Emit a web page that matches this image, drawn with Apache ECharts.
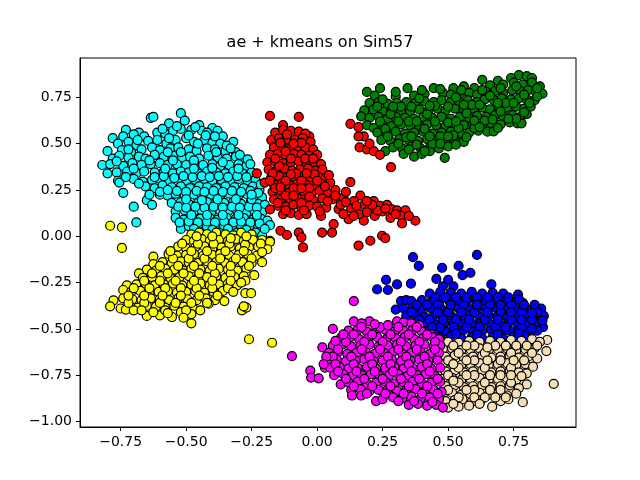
<!DOCTYPE html>
<html>
<head>
<meta charset="utf-8">
<script src="https://cdn.jsdelivr.net/npm/echarts@6/dist/echarts.min.js"></script>
<style>
  html, body { margin: 0; padding: 0; background: #fff; }
  #chart { width: 640px; height: 480px; }
</style>
</head>
<body>
<div id="chart"></div>
<script>
"use strict";

var titleText = "ae + kmeans on Sim57";
var xTicks = [-0.75, -0.5, -0.25, 0, 0.25, 0.5, 0.75];
var yTicks = [-1, -0.75, -0.5, -0.25, 0, 0.25, 0.5, 0.75];

var cyanPts = [
    [-0.635,0.64],[-0.625,0.645],[-0.52,0.665],[-0.505,0.625],[-0.565,0.61],[-0.45,0.60],[-0.40,0.585],[-0.38,0.57],[-0.73,0.575],[-0.78,0.53],[-0.68,0.56],
    [-0.74,0.54],[-0.70,0.55],[-0.66,0.54],[-0.61,0.56],[-0.58,0.555],[-0.55,0.57],[-0.52,0.58],[-0.48,0.575],[-0.44,0.57],[-0.42,0.56],[-0.36,0.54],
    [-0.76,0.50],[-0.72,0.51],[-0.69,0.49],[-0.645,0.515],[-0.61,0.52],[-0.575,0.50],[-0.54,0.52],[-0.50,0.53],[-0.47,0.51],[-0.43,0.52],[-0.40,0.505],[-0.37,0.50],[-0.32,0.51],
    [-0.80,0.46],[-0.745,0.465],[-0.71,0.455],[-0.67,0.47],[-0.63,0.48],[-0.60,0.465],[-0.56,0.475],[-0.53,0.48],[-0.49,0.47],[-0.46,0.46],[-0.42,0.475],[-0.39,0.47],[-0.35,0.46],[-0.31,0.455],
    [-0.78,0.42],[-0.755,0.435],[-0.72,0.425],[-0.68,0.43],[-0.655,0.42],[-0.62,0.44],[-0.585,0.43],[-0.55,0.435],[-0.515,0.425],[-0.485,0.43],[-0.45,0.42],[-0.415,0.435],[-0.38,0.425],[-0.345,0.42],[-0.31,0.43],[-0.28,0.41],
    [-0.82,0.385],[-0.79,0.39],[-0.74,0.38],[-0.705,0.395],[-0.67,0.385],[-0.635,0.39],[-0.60,0.395],[-0.57,0.385],[-0.535,0.39],[-0.50,0.385],[-0.47,0.395],[-0.435,0.385],[-0.40,0.39],[-0.37,0.38],[-0.335,0.385],[-0.30,0.39],[-0.27,0.38],
    [-0.80,0.34],[-0.765,0.345],[-0.725,0.35],[-0.69,0.34],[-0.66,0.35],[-0.62,0.345],[-0.585,0.35],[-0.55,0.34],[-0.52,0.35],[-0.49,0.345],[-0.455,0.34],[-0.42,0.35],[-0.385,0.345],[-0.35,0.34],[-0.32,0.35],[-0.285,0.34],[-0.25,0.345],
    [-0.76,0.30],[-0.70,0.31],[-0.665,0.295],[-0.63,0.305],[-0.60,0.31],[-0.565,0.30],[-0.53,0.31],[-0.50,0.30],[-0.465,0.305],[-0.43,0.31],[-0.40,0.30],[-0.365,0.305],[-0.33,0.30],[-0.30,0.31],[-0.265,0.30],[-0.235,0.305],
    [-0.74,0.235],[-0.755,0.29],[-0.655,0.27],[-0.62,0.26],[-0.59,0.275],[-0.555,0.265],[-0.52,0.27],[-0.485,0.26],[-0.45,0.27],[-0.42,0.265],[-0.385,0.26],[-0.35,0.27],[-0.315,0.265],[-0.28,0.26],[-0.245,0.27],[-0.22,0.25],
    [-0.65,0.195],[-0.63,0.17],[-0.60,0.225],[-0.57,0.22],[-0.54,0.23],[-0.505,0.22],[-0.47,0.225],[-0.44,0.215],[-0.405,0.225],[-0.37,0.22],[-0.335,0.23],[-0.30,0.22],[-0.265,0.225],[-0.235,0.215],[-0.21,0.21],
    [-0.70,0.16],[-0.555,0.18],[-0.52,0.185],[-0.49,0.175],[-0.455,0.18],[-0.42,0.185],[-0.39,0.175],[-0.355,0.18],[-0.32,0.185],[-0.29,0.175],[-0.255,0.18],[-0.225,0.175],[-0.20,0.17],
    [-0.54,0.135],[-0.505,0.14],[-0.47,0.135],[-0.44,0.14],[-0.405,0.13],[-0.37,0.14],[-0.34,0.135],[-0.305,0.14],[-0.27,0.13],[-0.24,0.14],[-0.21,0.13],
    [-0.69,0.075],[-0.54,0.10],[-0.51,0.09],[-0.475,0.10],[-0.445,0.095],[-0.41,0.10],[-0.38,0.09],[-0.345,0.10],[-0.31,0.095],[-0.28,0.10],[-0.245,0.09],[-0.215,0.095],[-0.19,0.085],
    [-0.52,0.04],[-0.49,0.055],[-0.455,0.06],[-0.42,0.05],[-0.39,0.06],[-0.355,0.055],[-0.32,0.06],[-0.29,0.05],[-0.255,0.055],[-0.225,0.05],[-0.18,0.06],
    [-0.45,0.02],[-0.41,0.015],[-0.375,0.02],[-0.34,0.015],[-0.305,0.02],[-0.27,0.01],[-0.235,0.02],[-0.21,0.005],
    [-0.59,0.58],[-0.535,0.595],[-0.465,0.59],[-0.425,0.545],[-0.39,0.54],[-0.345,0.49],[-0.33,0.475],[-0.295,0.44],[-0.265,0.415],[-0.62,0.32],[-0.585,0.325],[-0.545,0.315],[-0.51,0.325],[-0.475,0.32],[-0.44,0.325],[-0.41,0.32],[-0.375,0.325],[-0.34,0.32],[-0.305,0.325],[-0.27,0.32],
    [-0.60,0.24],[-0.57,0.25],[-0.535,0.245],[-0.50,0.24],[-0.46,0.245],[-0.43,0.24],[-0.395,0.245],[-0.36,0.24],[-0.325,0.245],[-0.29,0.24],[-0.255,0.245],[-0.225,0.235],
    [-0.53,0.16],[-0.50,0.155],[-0.465,0.16],[-0.43,0.155],[-0.395,0.16],[-0.36,0.155],[-0.325,0.16],[-0.295,0.155],[-0.26,0.16],[-0.23,0.155],
    [-0.525,0.075],[-0.49,0.08],[-0.455,0.075],[-0.42,0.08],[-0.39,0.075],[-0.355,0.08],[-0.32,0.075],[-0.29,0.08],[-0.255,0.075],[-0.22,0.07],
    [-0.565,0.53],[-0.49,0.545],[-0.455,0.50],[-0.385,0.455],[-0.255,0.39],[-0.215,0.28],[-0.57,0.455],[-0.52,0.455],[-0.64,0.41],[-0.55,0.41],[-0.47,0.41],[-0.36,0.40],
    [-0.58,0.365],[-0.47,0.365],[-0.40,0.37],[-0.30,0.365],[-0.50,0.20],[-0.44,0.195],[-0.38,0.20],[-0.31,0.20],[-0.25,0.20],[-0.48,0.115],[-0.42,0.115],[-0.36,0.115],[-0.30,0.115],[-0.23,0.115],
    [-0.47,0.04],[-0.40,0.035],[-0.34,0.04],[-0.27,0.035],[-0.20,0.04],[-0.685,0.52],[-0.72,0.47],[-0.765,0.405],[-0.70,0.365],[-0.73,0.32],[-0.68,0.285],[-0.64,0.225],[-0.25,0.225]
];

var yellowPts = [
    [-0.79,0.057],[-0.745,0.048],[-0.745,-0.063],[-0.26,-0.556],[-0.172,-0.575],
    [-0.48,0.01],[-0.45,0.02],[-0.42,0.012],[-0.385,0.02],[-0.35,0.01],[-0.32,0.005],[-0.29,0.02],[-0.25,0.01],[-0.18,-0.024],
    [-0.50,-0.02],[-0.47,-0.025],[-0.44,-0.015],[-0.41,-0.025],[-0.375,-0.02],[-0.34,-0.025],[-0.31,-0.015],[-0.28,-0.025],[-0.245,-0.02],[-0.21,-0.02],[-0.18,-0.03],
    [-0.53,-0.055],[-0.50,-0.065],[-0.465,-0.06],[-0.43,-0.055],[-0.40,-0.065],[-0.365,-0.06],[-0.33,-0.055],[-0.295,-0.065],[-0.26,-0.06],[-0.225,-0.055],[-0.19,-0.07],
    [-0.567,-0.095],[-0.535,-0.105],[-0.50,-0.10],[-0.47,-0.095],[-0.435,-0.105],[-0.40,-0.10],[-0.37,-0.095],[-0.335,-0.105],[-0.30,-0.10],[-0.265,-0.095],[-0.23,-0.105],[-0.21,-0.14],
    [-0.625,-0.11],[-0.625,-0.15],[-0.59,-0.14],[-0.555,-0.145],[-0.52,-0.135],[-0.49,-0.14],[-0.455,-0.145],[-0.42,-0.135],[-0.385,-0.14],[-0.35,-0.145],[-0.32,-0.135],[-0.285,-0.14],[-0.25,-0.145],
    [-0.65,-0.18],[-0.615,-0.185],[-0.58,-0.175],[-0.545,-0.18],[-0.51,-0.185],[-0.48,-0.175],[-0.445,-0.18],[-0.41,-0.185],[-0.375,-0.175],[-0.34,-0.18],[-0.305,-0.185],[-0.27,-0.175],[-0.24,-0.21],
    [-0.68,-0.20],[-0.665,-0.225],[-0.63,-0.22],[-0.595,-0.215],[-0.56,-0.225],[-0.525,-0.22],[-0.49,-0.215],[-0.455,-0.225],[-0.42,-0.22],[-0.385,-0.215],[-0.35,-0.225],[-0.315,-0.22],[-0.28,-0.215],[-0.274,-0.24],
    [-0.726,-0.265],[-0.69,-0.26],[-0.655,-0.255],[-0.62,-0.265],[-0.585,-0.26],[-0.55,-0.255],[-0.515,-0.265],[-0.48,-0.26],[-0.445,-0.255],[-0.41,-0.265],[-0.375,-0.26],[-0.34,-0.255],[-0.305,-0.265],
    [-0.74,-0.29],[-0.71,-0.30],[-0.675,-0.295],[-0.64,-0.305],[-0.605,-0.30],[-0.57,-0.295],[-0.535,-0.305],[-0.50,-0.30],[-0.465,-0.295],[-0.43,-0.305],[-0.395,-0.30],[-0.36,-0.295],[-0.274,-0.307],[-0.252,-0.307],
    [-0.777,-0.346],[-0.74,-0.335],[-0.705,-0.34],[-0.67,-0.345],[-0.635,-0.335],[-0.60,-0.34],[-0.565,-0.345],[-0.53,-0.335],[-0.495,-0.34],[-0.46,-0.345],[-0.425,-0.335],[-0.354,-0.35],[-0.39,-0.345],
    [-0.79,-0.378],[-0.75,-0.39],[-0.72,-0.38],[-0.685,-0.385],[-0.65,-0.375],[-0.615,-0.38],[-0.58,-0.385],[-0.545,-0.375],[-0.51,-0.38],[-0.475,-0.385],[-0.414,-0.364],[-0.287,-0.40],[-0.27,-0.385],[-0.28,-0.378],
    [-0.73,-0.396],[-0.70,-0.40],[-0.65,-0.43],[-0.60,-0.427],[-0.554,-0.436],[-0.48,-0.47],[-0.48,-0.42],[-0.446,-0.40],[-0.625,-0.41],[-0.52,-0.41],
    [-0.515,-0.04],[-0.455,-0.04],[-0.395,-0.04],[-0.335,-0.04],[-0.275,-0.045],[-0.215,-0.04],[-0.55,-0.12],[-0.49,-0.12],[-0.43,-0.12],[-0.37,-0.12],[-0.31,-0.12],[-0.25,-0.12],
    [-0.63,-0.20],[-0.57,-0.20],[-0.51,-0.20],[-0.45,-0.20],[-0.39,-0.20],[-0.33,-0.20],[-0.70,-0.28],[-0.64,-0.28],[-0.58,-0.28],[-0.52,-0.28],[-0.46,-0.28],[-0.40,-0.28],[-0.34,-0.28],
    [-0.72,-0.36],[-0.66,-0.36],[-0.60,-0.36],[-0.54,-0.36],[-0.48,-0.36],[-0.42,-0.36],
    [-0.46,0.0],[-0.40,0.0],[-0.33,-0.01],[-0.27,0.0],[-0.56,-0.08],[-0.48,-0.08],[-0.42,-0.08],[-0.35,-0.08],[-0.28,-0.08],[-0.21,-0.085],[-0.60,-0.16],[-0.53,-0.16],[-0.47,-0.16],[-0.40,-0.16],[-0.33,-0.16],[-0.26,-0.16],
    [-0.66,-0.24],[-0.60,-0.24],[-0.54,-0.24],[-0.47,-0.24],[-0.40,-0.24],[-0.33,-0.24],[-0.29,-0.25],[-0.72,-0.32],[-0.66,-0.32],[-0.59,-0.32],[-0.52,-0.32],[-0.45,-0.32],[-0.38,-0.32],[-0.32,-0.30],
    [-0.67,-0.40],[-0.58,-0.40],[-0.50,-0.40],[-0.57,-0.415],[-0.51,-0.44]
];

var greenPts = [
    [0.63,0.845],[0.77,0.87],[0.80,0.865],[0.74,0.855],[0.82,0.855],[0.69,0.84],
    [0.19,0.78],[0.24,0.80],[0.345,0.80],[0.445,0.80],[0.56,0.81],[0.60,0.80],[0.66,0.815],[0.71,0.82],[0.75,0.83],[0.785,0.82],[0.82,0.83],[0.85,0.81],[0.52,0.80],
    [0.22,0.76],[0.30,0.755],[0.37,0.76],[0.41,0.77],[0.48,0.775],[0.51,0.765],[0.545,0.77],[0.58,0.775],[0.61,0.765],[0.645,0.78],[0.68,0.785],[0.71,0.775],[0.745,0.79],[0.775,0.785],[0.805,0.79],[0.835,0.78],[0.86,0.77],
    [0.20,0.72],[0.235,0.725],[0.27,0.715],[0.305,0.72],[0.34,0.725],[0.375,0.72],[0.41,0.73],[0.445,0.725],[0.475,0.735],[0.51,0.725],[0.54,0.73],[0.575,0.735],[0.61,0.725],[0.64,0.74],[0.675,0.735],[0.705,0.745],[0.74,0.74],[0.77,0.745],[0.80,0.74],[0.83,0.735],
    [0.18,0.68],[0.215,0.685],[0.25,0.675],[0.285,0.685],[0.32,0.68],[0.355,0.675],[0.39,0.685],[0.425,0.68],[0.46,0.69],[0.49,0.68],[0.525,0.69],[0.56,0.685],[0.595,0.69],[0.63,0.695],[0.66,0.685],[0.695,0.70],[0.725,0.695],[0.76,0.70],[0.79,0.69],[0.815,0.70],
    [0.168,0.648],[0.20,0.64],[0.235,0.645],[0.27,0.635],[0.30,0.645],[0.335,0.64],[0.37,0.635],[0.405,0.645],[0.44,0.64],[0.475,0.645],[0.51,0.635],[0.545,0.645],[0.58,0.64],[0.61,0.65],[0.645,0.645],[0.68,0.655],[0.71,0.65],[0.745,0.655],[0.78,0.65],[0.80,0.66],
    [0.19,0.60],[0.216,0.585],[0.25,0.60],[0.285,0.595],[0.32,0.605],[0.355,0.60],[0.39,0.595],[0.42,0.605],[0.455,0.60],[0.49,0.595],[0.525,0.605],[0.56,0.60],[0.595,0.605],[0.63,0.60],[0.665,0.61],[0.70,0.605],[0.735,0.615],[0.765,0.61],[0.78,0.61],
    [0.23,0.56],[0.265,0.555],[0.30,0.565],[0.335,0.555],[0.37,0.56],[0.405,0.565],[0.44,0.555],[0.475,0.56],[0.51,0.565],[0.545,0.555],[0.58,0.56],[0.615,0.57],[0.65,0.565],[0.674,0.567],
    [0.245,0.52],[0.28,0.515],[0.315,0.525],[0.35,0.52],[0.385,0.515],[0.42,0.525],[0.455,0.52],[0.49,0.515],[0.525,0.525],[0.56,0.51],
    [0.26,0.46],[0.29,0.48],[0.325,0.475],[0.36,0.485],[0.395,0.475],[0.43,0.48],[0.465,0.475],[0.50,0.485],
    [0.37,0.43],[0.43,0.46],[0.487,0.424],[0.33,0.445],[0.40,0.445],
    [0.25,0.74],[0.32,0.70],[0.39,0.745],[0.45,0.705],[0.53,0.75],[0.59,0.71],[0.66,0.76],[0.72,0.72],[0.79,0.765],[0.84,0.755],[0.28,0.66],[0.35,0.62],[0.42,0.66],[0.50,0.615],[0.57,0.665],[0.64,0.625],[0.70,0.675],[0.76,0.635],
    [0.26,0.58],[0.34,0.535],[0.41,0.58],[0.47,0.54],[0.54,0.585],[0.60,0.585],[0.31,0.50],[0.38,0.495],[0.44,0.50],[0.52,0.545],
    [0.23,0.70],[0.29,0.70],[0.36,0.70],[0.43,0.705],[0.50,0.70],[0.56,0.71],[0.62,0.71],[0.69,0.72],[0.75,0.72],[0.81,0.72],[0.24,0.62],[0.31,0.62],[0.38,0.62],[0.45,0.62],[0.53,0.62],[0.60,0.625],[0.67,0.63],[0.73,0.635],[0.79,0.67],
    [0.27,0.54],[0.36,0.54],[0.43,0.54],[0.50,0.54],[0.57,0.535],[0.62,0.59],[0.69,0.585],[0.30,0.78],[0.40,0.79],[0.47,0.795],[0.55,0.79],[0.63,0.79],[0.70,0.80],[0.76,0.81],[0.84,0.80],[0.35,0.47],[0.41,0.46],[0.47,0.50],[0.53,0.495]
];

var redPts = [
    [-0.18,0.65],[-0.07,0.645],[-0.13,0.60],[-0.03,0.54],
    [-0.16,0.56],[-0.13,0.575],[-0.10,0.57],[-0.07,0.565],[-0.045,0.555],
    [-0.175,0.52],[-0.145,0.53],[-0.115,0.525],[-0.085,0.52],[-0.055,0.53],[-0.025,0.51],
    [-0.165,0.48],[-0.135,0.485],[-0.105,0.475],[-0.075,0.485],[-0.045,0.48],[-0.015,0.47],
    [-0.18,0.44],[-0.15,0.445],[-0.12,0.435],[-0.09,0.445],[-0.06,0.44],[-0.03,0.435],[0.00,0.44],
    [-0.19,0.40],[-0.16,0.405],[-0.13,0.395],[-0.10,0.40],[-0.07,0.405],[-0.04,0.395],[-0.01,0.40],[0.015,0.39],
    [-0.185,0.36],[-0.155,0.355],[-0.125,0.365],[-0.095,0.355],[-0.065,0.36],[-0.035,0.365],[-0.005,0.355],[0.02,0.36],
    [-0.23,0.34],[-0.175,0.32],[-0.145,0.325],[-0.115,0.315],[-0.085,0.32],[-0.055,0.325],[-0.025,0.315],[0.005,0.32],[0.03,0.31],
    [-0.20,0.29],[-0.165,0.28],[-0.135,0.285],[-0.105,0.275],[-0.075,0.285],[-0.045,0.28],[-0.015,0.275],[0.015,0.285],[0.05,0.29],
    [-0.17,0.24],[-0.14,0.245],[-0.11,0.235],[-0.08,0.245],[-0.05,0.24],[-0.02,0.235],[0.01,0.245],[0.04,0.235],
    [-0.165,0.20],[-0.135,0.205],[-0.105,0.195],[-0.075,0.205],[-0.045,0.20],[-0.015,0.195],[0.02,0.205],
    [-0.18,0.145],[-0.15,0.165],[-0.12,0.16],[-0.09,0.17],[-0.06,0.155],[-0.03,0.165],[0.00,0.16],[0.035,0.155],
    [-0.13,0.12],[-0.10,0.125],[-0.07,0.115],[-0.04,0.12],[0.015,0.11],
    [0.127,0.293],[0.10,0.21],[0.082,0.147],[0.12,0.093],[0.165,0.22],[0.14,0.19],[0.18,0.17],[0.216,0.19],[0.20,0.15],[0.24,0.165],[0.267,0.17],[0.25,0.135],[0.285,0.145],[0.305,0.14],[0.337,0.14],[0.32,0.11],[0.375,0.084],[0.324,0.07],[0.178,0.084],[0.16,0.12],[0.22,0.11],[0.28,0.10],[0.06,0.20],[0.07,0.25],
    [-0.14,0.03],[-0.115,0.007],[-0.07,0.02],[-0.06,-0.006],[0.019,0.02],[0.057,0.02],[0.063,0.066],[0.158,-0.05],[0.203,-0.024],[0.248,0.003],[0.26,-0.01],[-0.054,-0.06],
    [0.127,0.607],[0.158,0.59],[0.178,0.54],[0.162,0.48],[0.19,0.47],[0.216,0.46],[0.24,0.44],[0.282,0.374],[0.158,0.54],[0.20,0.50],
    [-0.115,0.55],[-0.06,0.505],[-0.12,0.46],[-0.045,0.42],[-0.145,0.38],[-0.08,0.34],[-0.01,0.335],[-0.16,0.26],[-0.09,0.26],[-0.03,0.26],[-0.12,0.22],[-0.06,0.18],[0.03,0.27],[0.09,0.17],[0.13,0.15],[0.19,0.13],[0.23,0.14],
    [-0.14,0.505],[-0.09,0.50],[-0.16,0.42],[-0.10,0.42],[-0.015,0.42],[-0.17,0.34],[-0.10,0.335],[-0.04,0.34],[0.045,0.33],[-0.18,0.30],[-0.12,0.30],[-0.06,0.30],[0.0,0.30],[-0.14,0.265],[-0.06,0.26],
    [-0.15,0.18],[-0.09,0.22],[-0.03,0.215],[0.04,0.19],[-0.12,0.14],[-0.05,0.14],[0.01,0.135],[0.07,0.22],[0.11,0.24],[0.10,0.12],[0.15,0.165],[0.21,0.17],[0.26,0.15],[0.30,0.12],[0.35,0.11],[0.14,0.11],[0.19,0.19],[0.11,0.185]
];

var bluePts = [
    [0.366,-0.113],[0.61,-0.10],[0.388,-0.16],[0.477,-0.17],[0.54,-0.16],[0.555,-0.21],[0.585,-0.197],[0.455,-0.23],[0.263,-0.235],[0.229,-0.287],[0.27,-0.29],[0.305,-0.26],[0.358,-0.256],[0.665,-0.26],[0.767,-0.315],[0.30,-0.396],[0.32,-0.35],[0.34,-0.345],[0.50,-0.235],[0.48,-0.27],[0.52,-0.27],
    [0.43,-0.31],[0.47,-0.30],[0.51,-0.305],[0.55,-0.31],[0.59,-0.30],[0.63,-0.31],[0.67,-0.305],[0.71,-0.31],
    [0.36,-0.35],[0.40,-0.345],[0.435,-0.355],[0.47,-0.345],[0.505,-0.35],[0.54,-0.355],[0.575,-0.345],[0.61,-0.35],[0.645,-0.355],[0.68,-0.345],[0.715,-0.35],[0.75,-0.355],[0.785,-0.36],
    [0.33,-0.39],[0.365,-0.385],[0.40,-0.395],[0.435,-0.39],[0.47,-0.385],[0.505,-0.395],[0.54,-0.39],[0.575,-0.385],[0.61,-0.395],[0.645,-0.39],[0.68,-0.385],[0.715,-0.395],[0.75,-0.39],[0.785,-0.385],[0.82,-0.395],[0.855,-0.39],
    [0.34,-0.43],[0.375,-0.425],[0.41,-0.435],[0.445,-0.43],[0.48,-0.425],[0.515,-0.435],[0.55,-0.43],[0.585,-0.425],[0.62,-0.435],[0.655,-0.43],[0.69,-0.425],[0.725,-0.435],[0.76,-0.43],[0.795,-0.425],[0.83,-0.435],[0.865,-0.43],
    [0.38,-0.47],[0.415,-0.465],[0.45,-0.475],[0.485,-0.47],[0.52,-0.465],[0.555,-0.475],[0.59,-0.47],[0.625,-0.465],[0.66,-0.475],[0.695,-0.47],[0.73,-0.465],[0.765,-0.475],[0.80,-0.47],[0.835,-0.465],[0.862,-0.49],
    [0.42,-0.51],[0.455,-0.505],[0.49,-0.515],[0.525,-0.51],[0.56,-0.505],[0.595,-0.515],[0.63,-0.51],[0.665,-0.505],[0.70,-0.515],[0.735,-0.51],[0.77,-0.505],[0.805,-0.515],[0.84,-0.51],
    [0.47,-0.545],[0.51,-0.54],[0.55,-0.55],[0.59,-0.545],[0.63,-0.55],[0.67,-0.545],[0.71,-0.55],[0.75,-0.54],[0.79,-0.535],
    [0.45,-0.33],[0.53,-0.33],[0.61,-0.33],[0.69,-0.33],[0.77,-0.34],[0.38,-0.37],[0.46,-0.37],[0.56,-0.37],[0.66,-0.37],[0.74,-0.37],[0.84,-0.41],[0.36,-0.41],[0.50,-0.41],[0.60,-0.41],[0.70,-0.41],[0.78,-0.41],
    [0.43,-0.45],[0.53,-0.45],[0.64,-0.45],[0.74,-0.45],[0.82,-0.45],[0.47,-0.49],[0.57,-0.49],[0.68,-0.49],[0.78,-0.49],[0.82,-0.50],
    [0.49,-0.33],[0.57,-0.33],[0.65,-0.33],[0.73,-0.33],[0.42,-0.37],[0.51,-0.37],[0.61,-0.37],[0.70,-0.37],[0.79,-0.37],[0.83,-0.37],[0.46,-0.41],[0.55,-0.41],[0.65,-0.41],[0.74,-0.41],[0.82,-0.415],
    [0.39,-0.45],[0.48,-0.45],[0.58,-0.45],[0.69,-0.45],[0.78,-0.45],[0.86,-0.455],[0.44,-0.49],[0.52,-0.49],[0.62,-0.49],[0.72,-0.49],[0.53,-0.525],[0.61,-0.53],[0.69,-0.53],[0.77,-0.525]
];

var wheatPts = [
    [0.50,-0.57],[0.54,-0.575],[0.58,-0.565],[0.62,-0.57],[0.66,-0.565],[0.70,-0.57],[0.74,-0.56],[0.78,-0.565],[0.82,-0.555],[0.878,-0.56],[0.85,-0.57],
    [0.48,-0.61],[0.515,-0.605],[0.55,-0.615],[0.585,-0.61],[0.62,-0.605],[0.655,-0.615],[0.69,-0.61],[0.725,-0.605],[0.76,-0.615],[0.795,-0.61],[0.83,-0.605],[0.875,-0.62],
    [0.49,-0.65],[0.525,-0.645],[0.56,-0.655],[0.595,-0.65],[0.63,-0.645],[0.665,-0.655],[0.70,-0.65],[0.735,-0.645],[0.77,-0.655],[0.805,-0.65],[0.84,-0.66],
    [0.48,-0.69],[0.515,-0.685],[0.55,-0.695],[0.585,-0.69],[0.62,-0.685],[0.655,-0.695],[0.69,-0.69],[0.725,-0.685],[0.76,-0.695],[0.795,-0.69],[0.824,-0.704],
    [0.49,-0.73],[0.525,-0.725],[0.56,-0.735],[0.595,-0.73],[0.63,-0.725],[0.665,-0.735],[0.70,-0.73],[0.735,-0.725],[0.77,-0.735],[0.80,-0.74],
    [0.48,-0.77],[0.515,-0.765],[0.55,-0.775],[0.585,-0.77],[0.62,-0.765],[0.655,-0.775],[0.69,-0.77],[0.725,-0.765],[0.76,-0.775],[0.80,-0.80],[0.903,-0.797],
    [0.49,-0.81],[0.525,-0.805],[0.56,-0.815],[0.595,-0.81],[0.63,-0.805],[0.665,-0.815],[0.70,-0.81],[0.735,-0.805],[0.77,-0.82],
    [0.48,-0.85],[0.515,-0.845],[0.55,-0.855],[0.585,-0.85],[0.62,-0.845],[0.655,-0.855],[0.69,-0.85],[0.725,-0.86],[0.76,-0.85],
    [0.49,-0.89],[0.525,-0.885],[0.555,-0.88],[0.59,-0.895],[0.625,-0.885],[0.668,-0.92],[0.70,-0.89],[0.785,-0.896],
    [0.50,-0.925],[0.54,-0.92],[0.58,-0.915],
    [0.52,-0.59],[0.60,-0.59],[0.68,-0.59],[0.76,-0.59],[0.84,-0.59],[0.54,-0.63],[0.64,-0.63],[0.74,-0.63],[0.82,-0.63],[0.50,-0.67],[0.60,-0.67],[0.70,-0.67],[0.79,-0.67],
    [0.54,-0.71],[0.64,-0.71],[0.74,-0.71],[0.50,-0.75],[0.60,-0.75],[0.70,-0.75],[0.78,-0.755],[0.54,-0.79],[0.64,-0.79],[0.74,-0.79],[0.50,-0.83],[0.60,-0.83],[0.70,-0.83],[0.54,-0.87],[0.64,-0.87],[0.73,-0.88],
    [0.57,-0.59],[0.65,-0.60],[0.72,-0.59],[0.80,-0.59],[0.57,-0.67],[0.65,-0.67],[0.75,-0.67],[0.57,-0.75],[0.66,-0.75],[0.74,-0.75],[0.57,-0.83],[0.66,-0.83],[0.60,-0.87],[0.68,-0.87],[0.52,-0.905],[0.62,-0.905],[0.72,-0.87],[0.52,-0.69],[0.52,-0.78]
];

var magentaPts = [
    [0.14,-0.35],[0.06,-0.50],[0.02,-0.60],[-0.096,-0.647],[-0.026,-0.726],[-0.023,-0.763],[0.006,-0.767],[0.03,-0.71],[0.063,-0.615],
    [0.14,-0.46],[0.20,-0.46],[0.17,-0.47],[0.305,-0.46],[0.33,-0.465],[0.36,-0.47],[0.39,-0.48],
    [0.12,-0.51],[0.155,-0.505],[0.19,-0.515],[0.225,-0.51],[0.26,-0.505],[0.295,-0.515],[0.33,-0.51],[0.365,-0.505],[0.40,-0.515],[0.435,-0.53],
    [0.09,-0.55],[0.125,-0.545],[0.16,-0.555],[0.195,-0.55],[0.23,-0.545],[0.265,-0.555],[0.30,-0.55],[0.335,-0.545],[0.37,-0.555],[0.405,-0.55],[0.44,-0.545],[0.465,-0.555],
    [0.06,-0.59],[0.095,-0.585],[0.13,-0.595],[0.165,-0.59],[0.20,-0.585],[0.235,-0.595],[0.27,-0.59],[0.305,-0.585],[0.34,-0.595],[0.375,-0.59],[0.41,-0.585],[0.445,-0.595],[0.47,-0.59],
    [0.045,-0.63],[0.08,-0.625],[0.115,-0.635],[0.15,-0.63],[0.185,-0.625],[0.22,-0.635],[0.255,-0.63],[0.29,-0.625],[0.325,-0.635],[0.36,-0.63],[0.395,-0.625],[0.43,-0.635],[0.465,-0.63],
    [0.04,-0.67],[0.075,-0.665],[0.11,-0.675],[0.145,-0.67],[0.18,-0.665],[0.215,-0.675],[0.25,-0.67],[0.285,-0.665],[0.32,-0.675],[0.355,-0.67],[0.39,-0.665],[0.425,-0.675],[0.46,-0.67],
    [0.05,-0.71],[0.085,-0.705],[0.12,-0.715],[0.155,-0.71],[0.19,-0.705],[0.225,-0.715],[0.26,-0.71],[0.295,-0.705],[0.33,-0.715],[0.365,-0.71],[0.40,-0.705],[0.435,-0.715],[0.47,-0.71],
    [0.065,-0.75],[0.10,-0.745],[0.135,-0.755],[0.17,-0.75],[0.205,-0.745],[0.24,-0.755],[0.275,-0.75],[0.31,-0.745],[0.345,-0.755],[0.38,-0.75],[0.415,-0.745],[0.45,-0.755],
    [0.09,-0.80],[0.12,-0.79],[0.155,-0.785],[0.19,-0.795],[0.225,-0.79],[0.26,-0.785],[0.295,-0.795],[0.33,-0.79],[0.365,-0.785],[0.40,-0.795],[0.435,-0.79],[0.47,-0.785],
    [0.13,-0.83],[0.165,-0.825],[0.20,-0.835],[0.235,-0.83],[0.27,-0.825],[0.305,-0.835],[0.34,-0.83],[0.375,-0.825],[0.41,-0.835],[0.445,-0.83],[0.475,-0.84],
    [0.133,-0.86],[0.168,-0.86],[0.225,-0.89],[0.25,-0.88],[0.29,-0.87],[0.325,-0.875],[0.36,-0.865],[0.395,-0.875],[0.43,-0.87],[0.465,-0.88],
    [0.35,-0.91],[0.385,-0.905],[0.42,-0.915],[0.455,-0.91],[0.48,-0.925],
    [0.17,-0.49],[0.24,-0.49],[0.31,-0.49],[0.38,-0.49],[0.14,-0.53],[0.21,-0.53],[0.28,-0.53],[0.35,-0.53],[0.42,-0.53],[0.11,-0.57],[0.18,-0.57],[0.25,-0.57],[0.32,-0.57],[0.39,-0.57],[0.45,-0.57],
    [0.08,-0.61],[0.17,-0.61],[0.24,-0.61],[0.31,-0.61],[0.38,-0.61],[0.45,-0.61],[0.06,-0.65],[0.13,-0.65],[0.20,-0.65],[0.27,-0.65],[0.34,-0.65],[0.41,-0.65],
    [0.07,-0.69],[0.14,-0.69],[0.21,-0.69],[0.28,-0.69],[0.35,-0.69],[0.42,-0.69],[0.08,-0.73],[0.15,-0.73],[0.22,-0.73],[0.29,-0.73],[0.36,-0.73],[0.43,-0.73],
    [0.11,-0.77],[0.18,-0.77],[0.25,-0.77],[0.32,-0.77],[0.39,-0.77],[0.46,-0.77],[0.14,-0.81],[0.21,-0.81],[0.28,-0.81],[0.35,-0.81],[0.42,-0.81],
    [0.19,-0.85],[0.26,-0.85],[0.33,-0.85],[0.40,-0.85],[0.46,-0.85],[0.31,-0.89],[0.37,-0.89],[0.44,-0.895],
    [0.22,-0.475],[0.27,-0.48],[0.10,-0.53],[0.07,-0.565],[0.035,-0.65],[0.025,-0.69]
];

var clusters = [
    {name: "cyan", color: "#00ffff", data: cyanPts},
    {name: "yellow", color: "#ffff00", data: yellowPts},
    {name: "green", color: "#008000", data: greenPts},
    {name: "red", color: "#ff0000", data: redPts},
    {name: "blue", color: "#0000ff", data: bluePts},
    {name: "wheat", color: "#f5deb3", data: wheatPts},
    {name: "magenta", color: "#ff00ff", data: magentaPts}
];

function tickFormat(v) {
    var s = Math.abs(v).toFixed(2);
    return v < -1e-9 ? "\u2212" + s : s;
}

var chart = echarts.init(document.getElementById("chart"), null, {renderer: "canvas"});

var axisCommon = {
    type: "value",
    splitLine: {show: false},
    axisLine: {show: true, onZero: false, lineStyle: {color: "#000", width: 1}},
    axisTick: {show: true, inside: false, length: 4, lineStyle: {color: "#000", width: 1}},
    axisLabel: {color: "#000", fontSize: 14, fontFamily: "DejaVu Sans", formatter: tickFormat}
};

var options = {
    animation: false,
    backgroundColor: "#fff",
    title: {
        text: titleText,
        left: "center",
        top: 35,
        padding: 0,
        textStyle: {color: "#000", fontSize: 16, fontWeight: "normal", fontFamily: "DejaVu Sans"}
    },
    grid: {
        left: 80, top: 58, width: 496, height: 369,
        show: true, borderColor: "#000", borderWidth: 1, backgroundColor: "transparent"
    },
    xAxis: echarts.util.merge({
        min: -0.905, max: 0.988,
        axisTick: {customValues: xTicks},
        axisLabel: {customValues: xTicks, margin: 8}
    }, axisCommon),
    yAxis: echarts.util.merge({
        min: -1.03, max: 0.963,
        axisTick: {customValues: yTicks},
        axisLabel: {customValues: yTicks, margin: 8}
    }, axisCommon),
    series: clusters.map(function (c) {
        return {
            name: c.name,
            type: "scatter",
            data: c.data,
            symbol: "circle",
            symbolSize: 9,
            itemStyle: {color: c.color, borderColor: "#000", borderWidth: 1.2, opacity: 1}
        };
    })
};

chart.setOption(options);
</script>
</body>
</html>
